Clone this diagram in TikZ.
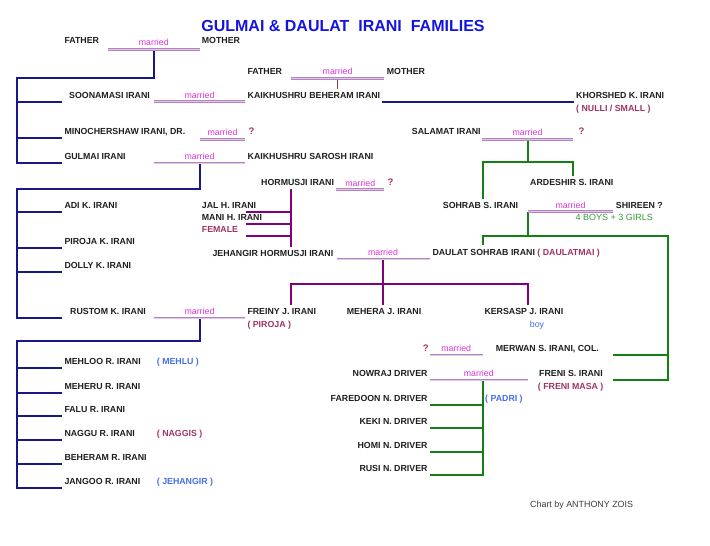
\documentclass[tikz,border=0pt]{standalone}
\usepackage{fontspec}
\setmainfont{Liberation Sans}
\definecolor{ink}{RGB}{30,30,30}
\definecolor{titleblue}{RGB}{20,20,225}
\definecolor{chartnavy}{RGB}{24,24,138}
\definecolor{plum}{RGB}{128,0,128}
\definecolor{leaf}{RGB}{20,128,20}
\definecolor{grassy}{RGB}{60,150,60}
\definecolor{rosy}{RGB}{160,50,100}
\definecolor{sky}{RGB}{70,110,230}
\definecolor{wedpink}{RGB}{220,50,220}
\definecolor{lav}{RGB}{180,130,190}
\definecolor{lavlite}{RGB}{225,200,230}
\definecolor{stub}{RGB}{140,60,60}
\definecolor{slate}{RGB}{60,60,60}
\newcommand{\namesize}{\fontsize{8.8}{10}\selectfont}

\begin{document}
\begin{tikzpicture}[
    x=1pt, y=-1pt,
    every node/.style={inner sep=0pt},
    person/.style={anchor=south west, inner xsep=2pt, inner ysep=3.3pt,
      text depth=0pt, font=\namesize\bfseries, text=ink},
    person right/.style={person, anchor=south east},
    aka/.style={person, text=rosy},
    query/.style={person, text=rosy, font=\fontsize{9.5}{10}\selectfont\bfseries},
    wed/.style={anchor=south, inner xsep=0pt, inner ysep=3.5pt,
      text depth=0pt, font=\namesize, text=wedpink},
    wedline/.style={draw=lav, double=lavlite, line width=0.9pt, double distance=0.8pt},
    navyline/.style={draw=chartnavy, line width=2pt},
    plumline/.style={draw=plum, line width=2pt},
    leafline/.style={draw=leaf, line width=2pt},
    stubline/.style={draw=stub, line width=1.6pt}
  ]
  \useasboundingbox (0,0) rectangle (710,546);

  \node[anchor=base, font=\fontsize{16}{18}\selectfont\bfseries, text=titleblue] (title)
    at (343,31) {GULMAI \& DAULAT\ \ IRANI\ \ FAMILIES};

  % people
  \node[person] (fa1) at (62.3,47.3) {FATHER};
  \node[person] (mo1) at (199.7,47.3) {MOTHER};
  \node[person] (fa2) at (245.3,77.8) {FATHER};
  \node[person] (mo2) at (384.7,77.8) {MOTHER};
  \node[person, inner xsep=7pt] (soon) at (62,101.8) {SOONAMASI IRANI};
  \node[person] (kbi) at (245.5,101.8) {KAIKHUSHRU BEHERAM IRANI};
  \node[person] (khor) at (574,101.8) {KHORSHED K. IRANI};
  \node[aka] (nulli) at (574,114.8) {( NULLI / SMALL )};
  \node[person] (mino) at (62.3,138.3) {MINOCHERSHAW IRANI, DR.};
  \node[query] (q1) at (246.3,138.3) {?};
  \node[person] (sal) at (409.7,138.3) {SALAMAT IRANI};
  \node[query] (q2) at (576.3,138.3) {?};
  \node[person] (gul) at (62.3,162.5) {GULMAI IRANI};
  \node[person] (ksi) at (245.5,162.5) {KAIKHUSHRU SAROSH IRANI};
  \node[person] (horm) at (259,188.8) {HORMUSJI IRANI};
  \node[query] (q3) at (385.3,188.8) {?};
  \node[person] (ard) at (528,188.8) {ARDESHIR S. IRANI};
  \node[person] (adi) at (62.3,211.8) {ADI K. IRANI};
  \node[person] (jal) at (199.7,211.8) {JAL H. IRANI};
  \node[person] (sohr) at (440.7,211.8) {SOHRAB S. IRANI};
  \node[person] (shir) at (613.7,211.8) {SHIREEN ?};
  \node[person] (mani) at (199.7,223.8) {MANI H. IRANI};
  \node[person, font=\fontsize{9}{10}\selectfont, text=grassy] (boys) at (573.3,223.8) {4 BOYS + 3 GIRLS};
  \node[aka] (fem) at (199.7,236.3) {FEMALE};
  \node[person] (pir) at (62.3,247.5) {PIROJA K. IRANI};
  \node[person] (jeh) at (210.3,259.8) {JEHANGIR HORMUSJI IRANI};
  \node[person] (daul) at (430.3,258.8) {DAULAT SOHRAB IRANI \textcolor{rosy}{( DAULATMAI )}};
  \node[person] (dolly) at (62.3,272.3) {DOLLY K. IRANI};
  \node[person, inner xsep=8pt] (rus) at (62,318.3) {RUSTOM K. IRANI};
  \node[person] (frei) at (245.3,318.3) {FREINY J. IRANI};
  \node[person] (mehera) at (344.7,318.3) {MEHERA J. IRANI};
  \node[person] (kers) at (482.3,318.3) {KERSASP J. IRANI};
  \node[aka] (piroja) at (245.3,330.5) {( PIROJA )};
  \node[wed, text=sky, inner ysep=3.3pt] (boy) at (537,330.6) {boy};
  \node[person] (merw) at (493.7,355.3) {MERWAN S. IRANI, COL.};
  \node[query] (q4) at (420.7,355.3) {?};
  \node[person] (mehloo) at (62.3,368.3) {MEHLOO R. IRANI};
  \node[aka, text=sky] (mehlu) at (154.7,368.3) {( MEHLU )};
  \node[person right] (nowraj) at (429.7,379.8) {NOWRAJ DRIVER};
  \node[person] (freni) at (537,379.8) {FRENI S. IRANI};
  \node[aka] (frenim) at (535.7,392.5) {( FRENI MASA )};
  \node[person] (meheru) at (62.3,392.5) {MEHERU R. IRANI};
  \node[person right] (fared) at (429.7,404.5) {FAREDOON N. DRIVER};
  \node[aka, text=sky] (padri) at (483,404.8) {( PADRI )};
  \node[person] (falu) at (62.3,416.3) {FALU R. IRANI};
  \node[person right] (keki) at (429.7,428.3) {KEKI N. DRIVER};
  \node[person] (naggu) at (62.3,440.3) {NAGGU R. IRANI};
  \node[aka] (naggis) at (154.7,440.3) {( NAGGIS )};
  \node[person right] (homi) at (429.7,451.5) {HOMI N. DRIVER};
  \node[person] (beh) at (62.3,463.5) {BEHERAM R. IRANI};
  \node[person right] (rusi) at (429.7,475.3) {RUSI N. DRIVER};
  \node[person] (jangoo) at (62.3,487.5) {JANGOO R. IRANI};
  \node[aka, text=sky] (jehg) at (154.7,487.5) {( JEHANGIR )};
  \node[person, font=\fontsize{8.9}{10}\selectfont, text=slate] (credit) at (528,510.5) {Chart by ANTHONY ZOIS};

  % marriages
  \node[wed, minimum width=91pt] (w1) at (153.8,49.3) {married};
  \node[wed, minimum width=93.3pt] (w2) at (337.6,78.3) {married};
  \node[wed, minimum width=91pt] (w3) at (199.5,101.7) {married};
  \node[wed, minimum width=45pt] (w4) at (222.5,139.3) {married};
  \node[wed, minimum width=91pt] (w5) at (199.5,163) {married};
  \node[wed, minimum width=47.3pt] (w6) at (360.3,189.7) {married};
  \node[wed, minimum width=90.4pt] (w7) at (527.5,139.3) {married};
  \node[wed, minimum width=84.4pt] (w8) at (570.5,211.7) {married};
  \node[wed, minimum width=92.6pt] (w9) at (383,259) {married};
  \node[wed, minimum width=91pt] (w10) at (199.5,318) {married};
  \node[wed, minimum width=52.3pt] (w11) at (456.2,355) {married};
  \node[wed, minimum width=97.7pt] (w12) at (478.8,380) {married};

  % first family
  \coordinate (trA) at (16.7,78.3);
  \draw[navyline] (w1.south) |- (trA) |- (gul.south west);
  \draw[navyline] (trA |- soon.south west) -- (soon.south west);
  \draw[navyline] (trA |- mino.south west) -- (mino.south west);
  \draw[stubline] (w2.south) -- (w2.south |- kbi.north);
  \draw[navyline, line width=1.4pt] (kbi.south east) -- (khor.south west);

  % Gulmai's children
  \coordinate (trB) at (16.7,189);
  \draw[navyline] (w5.south) |- (trB) |- (rus.south west);
  \foreach \k in {adi,pir,dolly}
    \draw[navyline] (trB |- \k.south west) -- (\k.south west);

  % Rustom's children
  \coordinate (trC) at (16.7,341);
  \draw[navyline] (w10.south) |- (trC) |- (jangoo.south west);
  \foreach \k in {mehloo,meheru,falu,naggu,beh}
    \draw[navyline] (trC |- \k.south west) -- (\k.south west);

  % Hormusji's children
  \coordinate (trH) at (291,189);
  \coordinate (hx) at (245.7,0);
  \draw[plumline] (trH) -- (trH |- jeh.north);
  \foreach \k in {jal,mani,fem}
    \draw[plumline] (trH |- \k.south) -- (hx |- \k.south);

  % Jehangir and Daulat
  \coordinate (trJ) at (291,284);
  \coordinate (trK) at (528.3,284);
  \draw[plumline] (w9.south) -- (w9.south |- mehera.north);
  \draw[plumline] (trJ |- frei.north) |- (trK) -- (trK |- kers.north);

  % Salamat's children
  \coordinate (trS) at (482.7,162.3);
  \coordinate (trT) at (573.3,162.3);
  \draw[leafline] (w7.south) -- (w7.south |- trS);
  \draw[leafline] (trS |- sohr.north) |- (trT) -- (trT |- ard.north);

  % Sohrab's children
  \coordinate (trD) at (482.7,235.7);
  \coordinate (trE) at (667.7,235.7);
  \coordinate (gx) at (613.3,0);
  \draw[leafline] (w8.south west) -- (w8.south west |- trD);
  \draw[leafline] (trD |- daul.north) |- (trE) |- (gx |- freni.south);
  \draw[leafline] (trE |- merw.south) -- (gx |- merw.south);

  % Nowraj's children
  \coordinate (trN) at (482.7,380);
  \draw[leafline] (trN) |- (rusi.south east);
  \foreach \k in {fared,keki,homi}
    \draw[leafline] (trN |- \k.south east) -- (\k.south east);

  \foreach \i in {1,...,12}
    \draw[wedline] (w\i.south west) -- (w\i.south east);
\end{tikzpicture}
\end{document}
